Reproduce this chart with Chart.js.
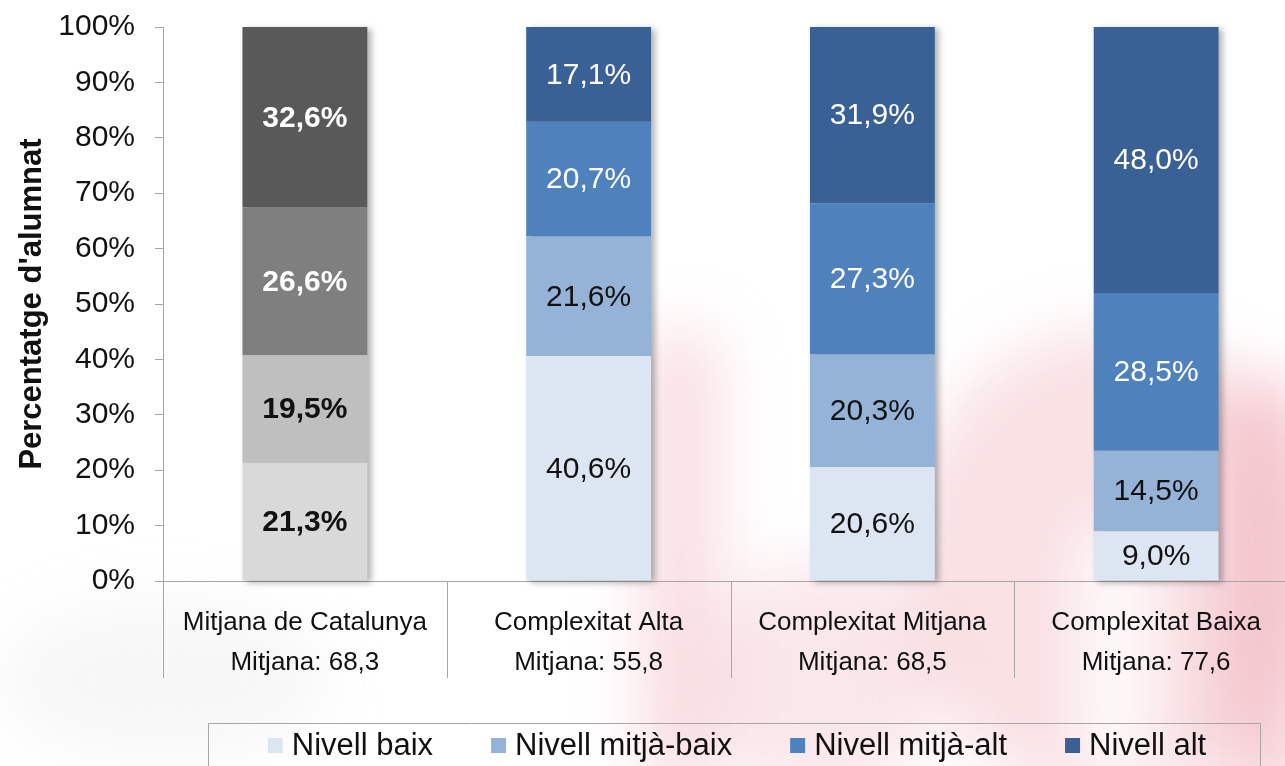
<!DOCTYPE html>
<html>
<head>
<meta charset="utf-8">
<script src="https://cdn.jsdelivr.net/npm/chart.js@4/dist/chart.umd.min.js"></script>
<style>
  html, body { margin: 0; padding: 0; background: #ffffff; overflow: hidden; width: 1285px; height: 766px; }
  #wrap { position: relative; width: 1285px; height: 766px; overflow: hidden; }
  .wm { position: absolute; border-radius: 50%; filter: blur(30px); z-index: 0; }
  canvas { position: absolute; left: 0; top: 0; z-index: 1; }
</style>
</head>
<body>
<div id="wrap">
  <div class="wm" style="left:900px; top:330px; width:420px; height:470px; background: rgba(240,175,185,0.38);"></div>
  <div class="wm" style="left:640px; top:330px; width:80px; height:460px; background: rgba(240,175,185,0.40); border-radius:30px;"></div>
  <div class="wm" style="left:700px; top:560px; width:240px; height:240px; background: rgba(240,175,185,0.30);"></div>
  <div class="wm" style="left:1220px; top:380px; width:90px; height:420px; background: rgba(238,160,172,0.45); border-radius:30px;"></div>
  <div class="wm" style="left:1080px; top:520px; width:70px; height:260px; background: rgba(255,255,255,0.9); border-radius:30px;"></div>
  <div class="wm" style="left:0px; top:600px; width:330px; height:160px; background: rgba(200,200,200,0.15);"></div>
  <canvas id="c" width="1300" height="766" style="width:1300px;height:766px;"></canvas>
</div>
<script>
// ---- data ----
const categories = [
  ["Mitjana de Catalunya", "Mitjana: 68,3"],
  ["Complexitat Alta", "Mitjana: 55,8"],
  ["Complexitat Mitjana", "Mitjana: 68,5"],
  ["Complexitat Baixa", "Mitjana: 77,6"]
];
const seriesNames = ["Nivell baix", "Nivell mitjà-baix", "Nivell mitjà-alt", "Nivell alt"];
const nivellBaix      = [21.3, 40.6, 20.6, 9.0];
const nivellMitjaBaix = [19.5, 21.6, 20.3, 14.5];
const nivellMitjaAlt  = [26.6, 20.7, 27.3, 28.5];
const nivellAlt       = [32.6, 17.1, 31.9, 48.0];
const yTickValues     = [0, 10, 20, 30, 40, 50, 60, 70, 80, 90, 100];

// ---- styles ----
const blueColors = ["#dce6f2", "#95b3d7", "#4f81bd", "#3a6195"];
const grayColors = ["#d9d9d9", "#bfbfbf", "#7f7f7f", "#595959"];
const labelColors = ["#111111", "#111111", "#ffffff", "#ffffff"];
const FONT = "'Liberation Sans', Arial, sans-serif";
const AXIS_COLOR = "#a6a6a6";

const seriesValues = [nivellBaix, nivellMitjaBaix, nivellMitjaAlt, nivellAlt];

const datasets = seriesValues.map((vals, si) => ({
  label: seriesNames[si],
  data: vals,
  backgroundColor: (ctx) => (ctx.type === 'data' && ctx.dataIndex === 0) ? grayColors[si] : blueColors[si],
  borderWidth: 0,
  categoryPercentage: 0.44,
  barPercentage: 1.0
}));

const fmt = (v) => v.toFixed(1).replace('.', ',') + '%';

const shadowPlugin = {
  id: 'barShadow',
  beforeDatasetsDraw(chart) {
    const ctx = chart.ctx;
    const n = chart.data.datasets.length;
    const first = chart.getDatasetMeta(0).data;
    const last = chart.getDatasetMeta(n - 1).data;
    ctx.save();
    ctx.filter = 'blur(3px)';
    ctx.fillStyle = 'rgba(0,0,0,0.30)';
    first.forEach((el, i) => {
      const top = last[i].y;
      const bottom = el.base;
      const half = el.width / 2;
      ctx.fillRect(el.x - half + 4, top + 2, el.width, bottom - top);
    });
    ctx.restore();
  }
};

// category separators extending below the x axis (category boundaries from the x scale)
const separatorPlugin = {
  id: 'catSeparators',
  afterDraw(chart) {
    const xs = chart.scales.x;
    const ctx = chart.ctx;
    const n = chart.data.labels.length;
    const step = xs.getPixelForValue(1) - xs.getPixelForValue(0);
    const y0 = chart.chartArea.bottom;
    ctx.save();
    ctx.strokeStyle = AXIS_COLOR;
    ctx.lineWidth = 1;
    ctx.beginPath();
    for (let i = 0; i <= n; i++) {
      const x = Math.round(xs.getPixelForValue(0) + (i - 0.5) * step) + 0.5;
      ctx.moveTo(x, y0);
      ctx.lineTo(x, y0 + 97);
    }
    ctx.stroke();
    ctx.restore();
  }
};

const labelPlugin = {
  id: 'segLabels',
  afterDatasetsDraw(chart) {
    const ctx = chart.ctx;
    ctx.save();
    ctx.textAlign = 'center';
    ctx.textBaseline = 'middle';
    chart.data.datasets.forEach((ds, si) => {
      const meta = chart.getDatasetMeta(si);
      meta.data.forEach((el, i) => {
        const v = ds.data[i];
        ctx.font = (i === 0 ? 'bold ' : '') + '30px ' + FONT;
        ctx.fillStyle = labelColors[si];
        ctx.fillText(fmt(v), el.x, (el.y + el.base) / 2 + 1);
      });
    });
    ctx.restore();
  }
};

const legendPlugin = {
  id: 'boxLegend',
  afterDraw(chart) {
    const ctx = chart.ctx;
    const boxLeft = 208, boxRight = 1260, boxTop = 723;
    ctx.save();
    ctx.strokeStyle = AXIS_COLOR;
    ctx.lineWidth = 1;
    ctx.beginPath();
    ctx.moveTo(boxLeft + 0.5, 800);
    ctx.lineTo(boxLeft + 0.5, boxTop + 0.5);
    ctx.lineTo(boxRight + 0.5, boxTop + 0.5);
    ctx.lineTo(boxRight + 0.5, 800);
    ctx.stroke();
    ctx.font = '31px ' + FONT;
    const sq = 15, gap = 9, itemGap = 58;
    const widths = chart.data.datasets.map(d => ctx.measureText(d.label).width);
    const total = widths.reduce((a, w) => a + sq + gap + w, 0) + itemGap * (widths.length - 1);
    let x = (boxLeft + boxRight) / 2 - total / 2 + 3;
    const cy = 746;
    ctx.textBaseline = 'middle';
    ctx.textAlign = 'left';
    chart.data.datasets.forEach((d, i) => {
      ctx.fillStyle = blueColors[i];
      ctx.fillRect(x, cy - 8, sq, sq);
      ctx.fillStyle = '#111111';
      ctx.fillText(d.label, x + sq + gap, cy);
      x += sq + gap + widths[i] + itemGap;
    });
    ctx.restore();
  }
};

new Chart(document.getElementById('c'), {
  type: 'bar',
  data: { labels: categories, datasets },
  options: {
    responsive: false,
    animation: false,
    devicePixelRatio: 1,
    layout: { padding: { left: 12, top: 27, right: 2, bottom: 83 } },
    plugins: {
      legend: { display: false },
      tooltip: { enabled: false }
    },
    scales: {
      x: {
        stacked: true,
        grid: { offset: true, drawOnChartArea: false, drawTicks: false, color: AXIS_COLOR, lineWidth: 1 },
        border: { display: true, color: AXIS_COLOR, width: 1 },
        ticks: {
          color: '#111111',
          font: { family: FONT, size: 26, lineHeight: 40 / 26 },
          padding: 22,
          maxRotation: 0,
          autoSkip: false
        },
        afterFit(scale) { scale.height = 102; scale.paddingLeft = 0; scale.paddingRight = 0; }
      },
      y: {
        stacked: true,
        min: 0,
        max: 100,
        afterBuildTicks(scale) { scale.ticks = yTickValues.map(v => ({ value: v })); },
        afterFit(scale) { scale.width = 151; scale.paddingTop = 0; scale.paddingBottom = 0; },
        grid: { drawOnChartArea: false, tickLength: 8, color: AXIS_COLOR, lineWidth: 1 },
        border: { display: true, color: AXIS_COLOR, width: 1 },
        ticks: {
          color: '#111111',
          font: { family: FONT, size: 30 },
          padding: 20,
          callback: (v) => v + '%'
        },
        title: {
          display: true,
          text: "Percentatge d'alumnat",
          color: '#111111',
          font: { family: FONT, size: 31, weight: 'bold' },
          padding: { top: 2, bottom: 4 }
        }
      }
    }
  },
  plugins: [shadowPlugin, labelPlugin, separatorPlugin, legendPlugin]
});
</script>
</body>
</html>
